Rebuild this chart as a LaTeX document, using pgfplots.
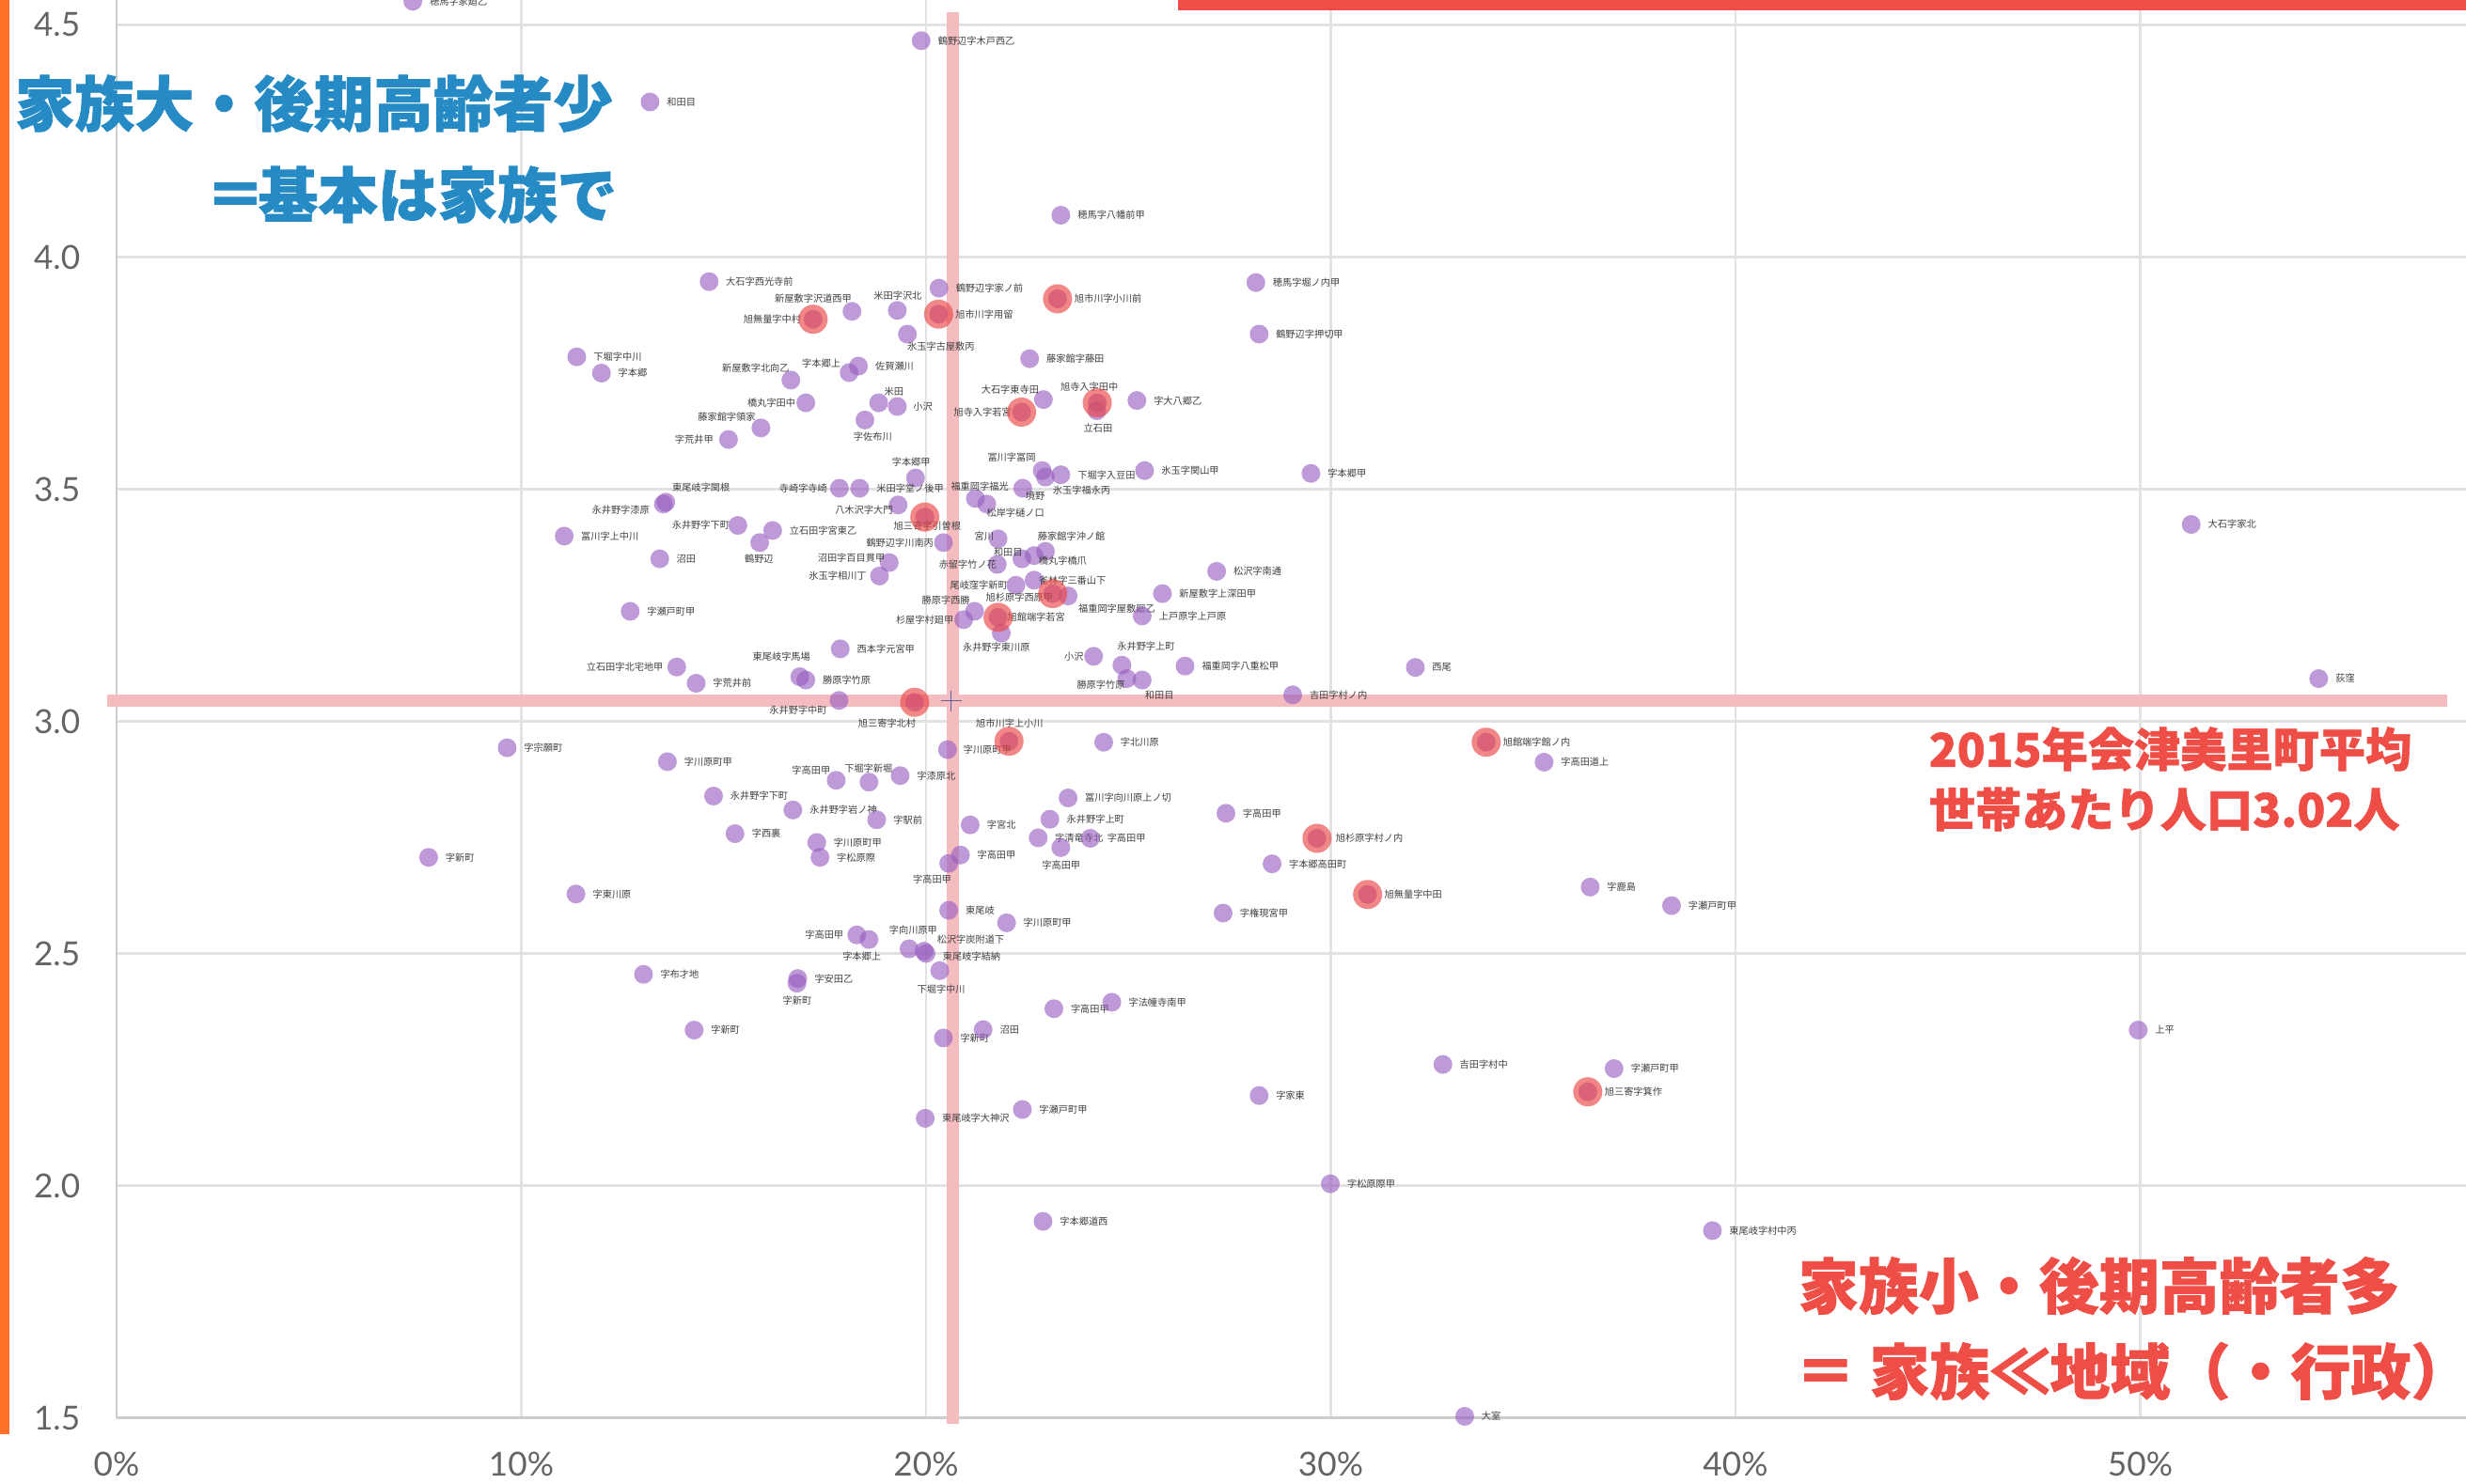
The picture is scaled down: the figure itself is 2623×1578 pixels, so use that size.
\documentclass[border=0pt]{standalone}
\usepackage{fontspec}
\usepackage{pgfplots}
\usepackage{pgfplotstable}
\pgfplotsset{compat=1.18}
\setmainfont{Noto Sans CJK JP}
\newfontfamily\annofont{Noto Sans CJK JP}[BoldFeatures={FakeBold=1.2}]
\newfontfamily\tickfont{Lato}
\definecolor{ptpurple}{RGB}{150,92,192}
\definecolor{ptred}{RGB}{235,70,70}
\definecolor{gridgray}{RGB}{226,226,226}
\definecolor{axisgray}{RGB}{205,205,205}
\definecolor{labelgray}{RGB}{64,64,64}
\definecolor{tickgray}{RGB}{100,100,100}
\definecolor{pinkline}{RGB}{245,188,192}
\definecolor{blueanno}{RGB}{38,139,196}
\definecolor{redanno}{RGB}{239,78,70}
\definecolor{orangebar}{RGB}{255,112,40}
\definecolor{crossblue}{RGB}{90,100,160}

\pgfplotstableread{
x y dx dy label
7.32 4.551 18 0 穂馬字家廻乙
13.18 4.334 18 0 和田目
19.88 4.466 18 0 鶴野辺字木戸西乙
14.64 3.947 18 0 大石字西光寺前
18.17 3.883 -82 14 新屋敷字沢道西甲
17.21 3.866 -74 0 旭無量字中村
19.29 3.885 -25 16 米田字沢北
20.31 3.877 18 0 旭市川字用留
20.32 3.933 18 0 鶴野辺字家ノ前
19.54 3.834 0 -13 氷玉字古屋敷丙
11.37 3.785 18 0 下堀字中川
11.98 3.750 18 0 字本郷
16.66 3.735 -73 13 新屋敷字北向乙
18.10 3.751 -50 10 字本郷上
18.33 3.765 18 0 佐賀瀬川
18.83 3.686 6 12 米田
19.29 3.678 17 0 小沢
17.03 3.686 -62 0 橋丸字田中
15.92 3.632 -67 12 藤家館字領家
15.12 3.607 -57 0 字荒井甲
18.49 3.649 -12 -18 字佐布川
22.90 3.693 -66 11 大石字東寺田
22.36 3.666 -72 0 旭寺入字若宮
19.74 3.524 -25 17 字本郷甲
17.86 3.502 -64 0 寺崎字寺崎
18.36 3.502 18 0 米田字堂ノ後甲
21.22 3.480 -26 13 福重岡字福光
21.50 3.468 0 -9 松岸字樋ノ口
22.39 3.502 3 -8 境野
13.57 3.472 7 16 東尾岐字関根
13.51 3.468 -76 -6 永井野字漆原
19.31 3.466 -67 -5 八木沢字大門
19.97 3.440 -33 -9 旭三寄字引曽根
20.43 3.385 -82 0 鶴野辺字川南丙
21.78 3.393 -25 3 宮川
22.37 3.350 -30 7 和田目
21.76 3.338 -62 0 赤留字竹ノ花
11.06 3.399 18 0 冨川字上中川
15.35 3.422 -70 0 永井野字下町
16.21 3.411 18 0 立石田字宮東乙
15.89 3.385 -16 -17 鶴野辺
13.42 3.350 18 0 沼田
19.09 3.342 -76 5 沼田字百目貫甲
18.85 3.313 -75 0 氷玉字相川丁
22.22 3.293 -70 0 尾岐窪字新町
12.69 3.237 18 0 字瀬戸町甲
21.20 3.237 -56 12 勝原字西勝
20.93 3.219 -72 0 杉屋字村廻甲
23.13 3.275 -71 -4 旭杉原字西原甲
21.78 3.224 10 0 旭館端字若宮
21.86 3.190 -41 -15 永井野字東川原
17.88 3.156 18 0 西本字元宮甲
16.88 3.096 -50 21 東尾岐字馬場
17.03 3.089 18 0 勝原字竹原
13.84 3.117 -96 0 立石田字北宅地甲
14.32 3.082 18 0 字荒井前
17.85 3.045 -74 -10 永井野字中町
19.72 3.041 -60 -22 旭三寄字北村
22.05 2.957 -35 19 旭市川字上小川
20.53 2.939 17 0 字川原町甲
9.65 2.943 18 0 字宗願町
13.61 2.913 18 0 字川原町甲
17.78 2.873 -47 11 字高田甲
18.59 2.869 -26 15 下堀字新堀
19.36 2.883 18 0 字漆原北
14.75 2.839 18 0 永井野字下町
16.71 2.809 18 0 永井野字岩ノ神
18.78 2.788 18 0 字駅前
21.09 2.777 18 0 字宮北
15.28 2.758 18 0 字西裏
17.30 2.739 18 0 字川原町甲
17.38 2.707 18 0 字松原際
20.85 2.712 18 0 字高田甲
20.56 2.694 -38 -17 字高田甲
7.71 2.707 18 0 字新町
11.35 2.628 18 0 字東川原
20.56 2.593 18 0 東尾岐
21.99 2.566 18 0 字川原町甲
18.29 2.540 -55 0 字高田甲
18.59 2.530 -28 -18 字本郷上
19.58 2.510 -21 20 字向川原甲
19.95 2.505 14 12 松沢字炭附道下
20.00 2.500 18 -3 東尾岐字結納
20.34 2.463 -24 -20 下堀字中川
13.02 2.455 18 0 字布才地
16.83 2.446 18 0 字安田乙
16.81 2.436 -15 -19 字新町
14.27 2.335 18 0 字新町
20.43 2.318 18 0 字新町
21.41 2.336 18 0 沼田
19.98 2.145 18 0 東尾岐字大神沢
22.38 2.164 18 0 字瀬戸町甲
23.16 2.381 18 0 字高田甲
24.59 2.395 18 0 字法幢寺南甲
28.23 2.194 18 0 字家東
32.77 2.261 18 0 吉田字村中
37.00 2.252 18 0 字瀬戸町甲
36.35 2.202 18 0 旭三寄字箕作
29.99 2.004 18 0 字松原際甲
22.89 1.923 18 0 字本郷道西
39.43 1.903 18 0 東尾岐字村中丙
33.31 1.503 18 0 大室
26.40 3.119 18 0 福重岡字八重松甲
32.09 3.116 18 0 西尾
24.14 3.140 -31 0 小沢
24.84 3.121 -5 20 永井野字上町
24.96 3.092 -53 -7 勝原字竹原
25.34 3.089 3 -16 和田目
29.06 3.057 18 0 吉田字村ノ内
33.84 2.955 18 0 旭館端字館ノ内
35.27 2.912 18 0 字高田道上
24.39 2.955 18 0 字北川原
23.51 2.835 18 0 冨川字向川原上ノ切
23.06 2.789 18 0 永井野字上町
27.41 2.802 18 0 字高田甲
22.77 2.749 18 0 字清竜寺北
24.06 2.748 18 0 字高田甲
23.33 2.728 -20 -19 字高田甲
29.66 2.748 20 0 旭杉原字村ノ内
28.55 2.693 18 0 字本郷高田町
30.91 2.627 18 0 旭無量字中田
27.34 2.587 18 0 字権現宮甲
24.23 3.686 -39 17 旭寺入字田中
24.22 3.669 -14 -19 立石田
25.21 3.691 18 0 字大八郷乙
22.87 3.540 -58 14 冨川字冨岡
23.33 3.531 18 0 下堀字入豆田
22.95 3.526 8 -14 氷玉字福永丙
25.40 3.540 18 0 氷玉字関山甲
29.51 3.534 18 0 字本郷甲
22.95 3.366 -8 16 藤家館字沖ノ館
22.67 3.357 5 -5 橋丸字橋爪
27.18 3.323 18 0 松沢字南通
22.67 3.304 5 0 雀林字三番山下
23.51 3.270 11 -13 福重岡字屋敷廻乙
25.84 3.275 18 0 新屋敷字上深田甲
25.34 3.227 18 0 上戸原字上戸原
23.33 4.090 18 0 穂馬字八幡前甲
28.15 3.945 18 0 穂馬字堀ノ内甲
23.25 3.910 18 0 旭市川字小川前
28.23 3.834 18 0 鶴野辺字押切甲
22.56 3.781 18 0 藤家館字藤田
51.26 3.424 18 0 大石字家北
54.41 3.092 18 0 荻窪
36.41 2.643 18 0 字鹿島
38.42 2.603 18 0 字瀬戸町甲
49.95 2.335 18 0 上平
}\pointdata

\pgfplotstableread{
x y
17.21 3.866
20.31 3.877
22.36 3.666
19.97 3.440
23.13 3.275
21.78 3.224
19.72 3.041
22.05 2.957
36.35 2.202
33.84 2.955
29.66 2.748
30.91 2.627
24.23 3.686
23.25 3.910
}\reddata

\begin{document}
\begin{tikzpicture}
\begin{axis}[
  at={(0pt,0pt)}, anchor=south west,
  scale only axis, width=624.75pt, height=377.125pt,
  xmin=0, xmax=58.05, ymin=1.5, ymax=4.5536,
  axis lines=left, axis line style={-, draw=axisgray, line width=0.6pt},
  grid=major, major grid style={draw=gridgray, line width=0.55pt},
  xtick={0,10,20,30,40,50}, xticklabels={0\%,10\%,20\%,30\%,40\%,50\%},
  ytick={1.5,2,2.5,3,3.5,4,4.5}, yticklabels={1.5,2.0,2.5,3.0,3.5,4.0,4.5},
  major tick length=0pt, tick style={draw=none},
  tick label style={font=\tickfont\fontsize{8.8}{10}\selectfont, text=tickgray, inner sep=0pt},
  xticklabel style={anchor=north, yshift=-9pt},
  yticklabel style={anchor=east, xshift=-9.5pt},
  clip=false,
]
\addplot[draw=pinkline, line width=3.25pt, forget plot] coordinates {(20.66,1.486) (20.66,4.528)};
\addplot[draw=pinkline, line width=3.25pt, forget plot] coordinates {(-0.23,3.0455) (57.58,3.0455)};
\addplot[only marks, mark=*, mark size=2.5pt, color=ptpurple,
  mark options={draw=ptpurple, draw opacity=0, line width=0pt, fill=ptpurple, fill opacity=0.62},
  nodes near coords, point meta=explicit symbolic,
  visualization depends on={0.25*\thisrow{dx} \as \dx},
  visualization depends on={0.25*\thisrow{dy} \as \dy},
  every node near coord/.append style={anchor=west, xshift=\dx pt, yshift=\dy pt,
    inner sep=0pt, text=labelgray, text opacity=1, font=\fontsize{2.55}{3}\selectfont},
] table[x=x, y=y, meta=label] \pointdata;
\addplot[only marks, mark=*, mark size=3.875pt, color=ptred,
  mark options={draw=ptred, draw opacity=0, line width=0pt, fill=ptred, fill opacity=0.65}] table[x=x, y=y] \reddata;
\addplot[only marks, mark=+, mark size=2.75pt, color=crossblue, line width=0.3pt] coordinates {(20.62,3.0445)};
\end{axis}
\begin{scope}[xshift=-31pt, yshift=377.125pt, x=0.25pt, y=-0.25pt]
 \fill[orangebar] (0,0) rectangle (10,1526);
 \fill[redanno] (1253,0) rectangle (2623,11);
 \node[anchor=west, inner sep=0pt, text=blueanno, font=\annofont\bfseries\fontsize{15.9}{18}\selectfont] at (15,110) {家族大・後期高齢者少};
 \node[anchor=east, inner sep=0pt, text=blueanno, font=\annofont\bfseries\fontsize{15.9}{18}\selectfont] at (657,207) {＝\kern-0.12em 基本は家族で};
 \node[anchor=west, inner sep=0pt, text=redanno, font=\annofont\bfseries\fontsize{12.3}{14}\selectfont] at (2051,797) {2015年会津美里町平均};
 \node[anchor=west, inner sep=0pt, text=redanno, font=\annofont\bfseries\fontsize{12.3}{14}\selectfont] at (2051,861) {世帯あたり人口3.02人};
 \node[anchor=west, inner sep=0pt, text=redanno, font=\annofont\bfseries\fontsize{16}{18}\selectfont] at (1912,1368) {家族小・後期高齢者多};
 \node[anchor=west, inner sep=0pt, text=redanno, font=\annofont\bfseries\fontsize{16}{18}\selectfont] at (1909,1459) {＝ 家族≪地域（・行政）};
 \pgfresetboundingbox
 \useasboundingbox (0,0) rectangle (2623,1578);
\end{scope}
\end{tikzpicture}
\end{document}
